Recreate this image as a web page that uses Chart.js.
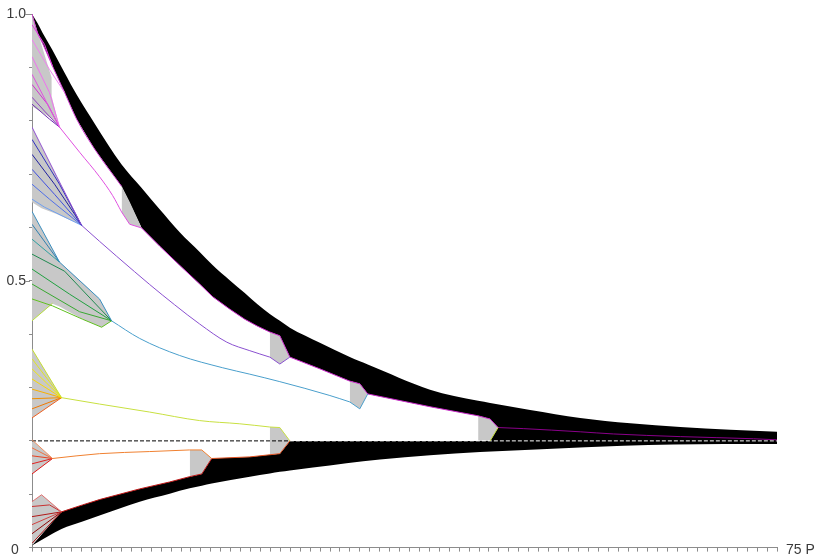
<!DOCTYPE html>
<html>
<head>
<meta charset="utf-8">
<script src="https://cdn.jsdelivr.net/npm/chart.js@4.4.1/dist/chart.umd.min.js"></script>
<style>
html,body{margin:0;padding:0;background:#fff;}
canvas{display:block;}
</style>
</head>
<body>
<canvas id="c" width="815" height="559"></canvas>
<script>
// generations 0..75 on x, frequency 0..1 on y
const X_MAX = 75;
const X_LABEL = 'P';
const Y_LABELS = {0.5: '0.5', 1: '1.0'};
const EQUIL = 0.2;

// black band coming down from 1.0
const upperX   = [0, 0.55, 1.06, 2.07, 3.28, 4.49, 6.30, 9.02, 11.04, 12.85, 14.87, 16.88, 18.20, 19.90, 21.42, 22.70, 23.94, 24.95, 25.96, 28.98, 31.99, 33.00, 33.80, 40.07, 44.91, 46.12, 46.13, 50.15, 55.19, 60.23, 65.27, 70.31, 75];
const upperTop = [1.000, 0.983, 0.965, 0.932, 0.890, 0.849, 0.795, 0.718, 0.674, 0.634, 0.591, 0.554, 0.529, 0.501, 0.477, 0.456, 0.438, 0.425, 0.412, 0.384, 0.357, 0.349, 0.343, 0.296, 0.275, 0.271, 0.27097, 0.258, 0.243, 0.233, 0.226, 0.221, 0.217];
const upperBot = [1.000, 0.965, 0.945, 0.902, 0.853, 0.803, 0.747, 0.677, 0.599, 0.565, 0.529, 0.494, 0.470, 0.447, 0.428, 0.415, 0.404, 0.397, 0.357, 0.335, 0.312, 0.307, 0.288, 0.264, 0.247, 0.241, 0.200, 0.200, 0.200, 0.200, 0.200, 0.200, 0.200];

// black band rising from 0
const lowerX   = [0, 2.97, 5.09, 6.80, 10.84, 13.86, 15.88, 17.09, 18.09, 21.93, 23.94, 24.95, 25.96, 28.28, 35.03, 40.07, 45.11, 51.86, 59.53, 64.57, 69.61, 75];
const lowerTop = [0.004, 0.067, 0.080, 0.090, 0.110, 0.123, 0.133, 0.138, 0.167, 0.170, 0.174, 0.176, 0.200, 0.200, 0.200, 0.200, 0.200, 0.200, 0.200, 0.200, 0.200, 0.200];
const lowerBot = [0.004, 0.035, 0.049, 0.060, 0.086, 0.101, 0.111, 0.116, 0.120, 0.133, 0.139, 0.142, 0.1445, 0.150, 0.165, 0.173, 0.179, 0.185, 0.191, 0.193, 0.194, 0.194];

// grey envelopes: [x, top, bottom]
const grey = [
  [[0, 1.97, 1.98, 2.77], [1.000, 0.881, 0.846, 0.788], [0.827, 0.804, 0.804, 0.788]],
  [[0, 0.96, 2.47, 4.99], [0.788, 0.751, 0.696, 0.604], [0.647, 0.636, 0.625, 0.604]],
  [[0, 2.07, 2.77, 5.09, 6.80, 7.01, 8.01], [0.630, 0.559, 0.535, 0.496, 0.466, 0.459, 0.425], [0.425, 0.457, 0.452, 0.428, 0.415, 0.413, 0.425]],
  [[0, 2.97], [0.372, 0.281], [0.243, 0.281]],
  [[0, 2.07], [0.202, 0.167], [0.138, 0.167]],
  [[0, 0.96, 2.97], [0.086, 0.099, 0.067], [0.006, 0.026, 0.067]],
  [[9.02, 9.83, 11.04], [0.677, 0.648, 0.599], [0.629, 0.606, 0.599]],
  [[23.94, 24.95, 25.96], [0.404, 0.397, 0.357], [0.357, 0.344, 0.357]],
  [[31.99, 33.00, 33.80], [0.312, 0.307, 0.288], [0.273, 0.260, 0.288]],
  [[44.91, 46.12, 46.92], [0.247, 0.241, 0.225], [0.200, 0.200, 0.225]],
  [[15.88, 17.09, 18.09], [0.183, 0.183, 0.167], [0.133, 0.138, 0.167]],
  [[23.94, 24.95, 25.96], [0.226, 0.225, 0.200], [0.174, 0.176, 0.200]]
];

// starting lines of each bundle
const bundle1 = [
  [[0, 0.980], [1.26, 0.943], [2.07, 0.902]],
  [[0, 0.952], [1.76, 0.896], [3.28, 0.853]],
  [[0, 0.920], [1.76, 0.853], [2.77, 0.788]],
  [[0, 0.887], [2.77, 0.788]],
  [[0, 0.868], [1.56, 0.831], [2.77, 0.788]],
  [[0, 0.844], [1.26, 0.818], [2.77, 0.788]],
  [[0, 0.831], [1.76, 0.803], [2.77, 0.788]]
];
const bundle2 = [
  [[0, 0.788], [2.47, 0.696], [4.99, 0.604]],
  [[0, 0.765], [2.77, 0.681], [4.99, 0.604]],
  [[0, 0.737], [2.27, 0.681], [4.28, 0.625], [4.99, 0.604]],
  [[0, 0.709], [2.27, 0.662], [4.99, 0.604]],
  [[0, 0.681], [1.76, 0.653], [4.99, 0.604]],
  [[0, 0.653], [1.26, 0.638], [4.99, 0.604]]
];
const bundle3 = [
  [[0, 0.630], [2.77, 0.535], [6.80, 0.466], [8.01, 0.425]],
  [[0, 0.606], [2.77, 0.535]],
  [[0, 0.578], [2.77, 0.535]],
  [[0, 0.550], [3.28, 0.518], [8.01, 0.425]],
  [[0, 0.522], [3.78, 0.475], [8.01, 0.425]],
  [[0, 0.494], [4.79, 0.442], [8.01, 0.425]],
  [[0, 0.466], [2.07, 0.453], [5.09, 0.428], [7.01, 0.413], [8.01, 0.425]],
  [[0, 0.425], [2.07, 0.458]]
];
const bundle4 = [
  [[0, 0.372], [2.97, 0.281]],
  [[0, 0.354], [2.97, 0.281]],
  [[0, 0.335], [2.97, 0.281]],
  [[0, 0.316], [2.97, 0.281]],
  [[0, 0.297], [2.97, 0.281]],
  [[0, 0.279], [2.97, 0.281]],
  [[0, 0.260], [2.97, 0.281]],
  [[0, 0.243], [2.97, 0.281]]
];
const bundle5 = [
  [[0, 0.202], [2.07, 0.167]],
  [[0, 0.187], [2.07, 0.167]],
  [[0, 0.172], [2.07, 0.167]],
  [[0, 0.157], [2.07, 0.167]],
  [[0, 0.138], [2.07, 0.167]]
];
const bundle6 = [
  [[0, 0.086], [0.96, 0.099], [2.97, 0.067]],
  [[0, 0.077], [1.76, 0.080], [2.97, 0.067]],
  [[0, 0.058], [2.97, 0.067]],
  [[0, 0.043], [2.97, 0.067]],
  [[0, 0.026], [2.97, 0.067]],
  [[0, 0.008], [2.97, 0.067]]
];

// merged lineages (smooth part) and the short joins into the bands
const trunk1 = [[2.77, 0.788], [4.79, 0.741], [6.80, 0.695], [8.11, 0.660], [9.02, 0.629]];
const join1  = [[9.02, 0.629], [9.83, 0.606], [11.04, 0.599]];
const trunk2 = [[4.99, 0.604], [6.80, 0.574], [8.52, 0.546], [10.33, 0.517], [11.85, 0.493], [14.36, 0.455], [16.88, 0.419], [19.61, 0.385], [21.93, 0.369], [23.94, 0.357]];
const join2  = [[23.94, 0.357], [24.95, 0.344], [25.96, 0.357]];
const trunk3 = [[8.01, 0.425], [10.84, 0.392], [14.87, 0.360], [19.20, 0.337], [21.93, 0.325], [24.95, 0.311], [29.99, 0.285], [31.99, 0.273]];
const join3  = [[31.99, 0.273], [33.00, 0.260], [33.80, 0.288]];
const trunk4 = [[2.97, 0.281], [6.80, 0.269], [11.85, 0.254], [16.88, 0.238], [20.92, 0.232], [23.94, 0.226]];
const join4  = [[23.94, 0.226], [24.95, 0.225], [25.96, 0.200]];
const join4b = [[46.12, 0.200], [46.92, 0.225]];
const trunk5 = [[2.07, 0.167], [6.80, 0.176], [11.85, 0.180], [15.88, 0.183]];
const join5  = [[15.88, 0.183], [17.09, 0.183], [18.09, 0.167]];
const trunk6 = [[2.97, 0.067], [5.09, 0.080], [6.80, 0.090], [10.84, 0.110], [13.86, 0.123], [15.88, 0.133], [17.09, 0.138], [18.09, 0.167]];
const lowerEdge = [[18.09, 0.167], [21.93, 0.170], [23.94, 0.174], [24.95, 0.176], [25.96, 0.200]];
const upperEdgeLeft = [[0, 1.0], [0.55, 0.965], [1.06, 0.945], [2.07, 0.902], [3.28, 0.853], [4.49, 0.803], [6.30, 0.747], [9.02, 0.677]];
const upperEdge = [[11.04, 0.599], [12.85, 0.565], [14.87, 0.529], [16.88, 0.494], [18.20, 0.470], [19.90, 0.447], [21.42, 0.428], [22.70, 0.415], [23.94, 0.404], [24.95, 0.397], [25.96, 0.357], [28.98, 0.335], [31.99, 0.312], [33.00, 0.307], [33.80, 0.288], [40.07, 0.264], [44.91, 0.247], [46.12, 0.241], [46.92, 0.225]];
const finalLine = [[46.92, 0.225], [49.45, 0.223], [55.19, 0.217], [58.52, 0.213], [65.27, 0.208], [72.63, 0.204], [75, 0.202]];

// styles
const c1 = ['#e040e0', '#f080f0', '#f070f0', '#e050e0', '#d030d0', '#9040c0', '#7030b0'];
const c2 = ['#9050d0', '#3030c0', '#2020a0', '#4050e0', '#5070e8', '#70a0f0'];
const c3 = ['#3a8fc0', '#3080b0', '#30a0a0', '#208a50', '#20a040', '#38a830', '#60c020', '#b8e040'];
const c4 = ['#c8e030', '#e0e820', '#f0e810', '#f8d800', '#f8b000', '#f09000', '#f07800', '#f06020'];
const c5 = ['#f09060', '#f07040', '#e84020', '#e02020', '#e01818'];
const c6 = ['#e07070', '#c83030', '#b01818', '#d04040', '#900808', '#a01010'];
const SMOOTH = {cubicInterpolationMode: 'monotone'};

const pts = (xs, ys) => xs.map((x, i) => ({x, y: ys[i]}));
const pairs = p => p.map(([x, y]) => ({x, y}));

function lineDs(p, color, extra) {
  return Object.assign({data: pairs(p), borderColor: color, borderWidth: 1, pointRadius: 0,
    fill: false, tension: 0, order: 0}, extra || {});
}
function areaDs(xs, top, bot, color, order, topExtra, botExtra) {
  return [
    Object.assign({data: pts(xs, top), borderWidth: 0, borderColor: 'rgba(0,0,0,0)', pointRadius: 0,
     backgroundColor: color, fill: '+1', tension: 0, order}, topExtra || {}),
    Object.assign({data: pts(xs, bot), borderWidth: 0, borderColor: 'rgba(0,0,0,0)', pointRadius: 0,
     fill: false, tension: 0, order}, botExtra || {})
  ];
}

const datasets = [];
datasets.push(...areaDs(upperX, upperTop, upperBot, '#000', 3, SMOOTH));
datasets.push(...areaDs(lowerX, lowerTop, lowerBot, '#000', 3, null, SMOOTH));
grey.forEach(g => datasets.push(...areaDs(g[0], g[1], g[2], '#c8c8c8', 2)));

// dashed equilibrium line, black on white, white on the bands
datasets.push(lineDs([[0, EQUIL], [25.96, EQUIL]], '#000', {borderDash: [4, 2], order: 1}));
datasets.push(lineDs([[25.96, EQUIL], [X_MAX, EQUIL]], '#fff', {borderDash: [4, 2], order: 1}));

[[bundle1, c1], [bundle2, c2], [bundle3, c3], [bundle4, c4], [bundle5, c5], [bundle6, c6]]
  .forEach(([b, cs]) => b.forEach((p, i) => datasets.push(lineDs(p, cs[i]))));

datasets.push(lineDs(upperEdgeLeft, '#d040d0', SMOOTH));
datasets.push(lineDs(trunk1, '#e050e0', SMOOTH), lineDs(join1, '#e050e0'));
datasets.push(lineDs(trunk2, '#8a50d0', SMOOTH), lineDs(join2, '#8a50d0'));
datasets.push(lineDs(trunk3, '#4a9fcc', SMOOTH), lineDs(join3, '#4a9fcc'));
datasets.push(lineDs(trunk4, '#c8e040', SMOOTH), lineDs(join4, '#c8e040'), lineDs(join4b, '#c8e040'));
datasets.push(lineDs(trunk5, '#f08030', SMOOTH), lineDs(join5, '#f08030'));
datasets.push(lineDs(trunk6, '#c01818'));
datasets.push(lineDs(lowerEdge, '#e05020'));
datasets.push(lineDs(upperEdge, '#c828c8'));
datasets.push(lineDs(finalLine, '#8a008a', SMOOTH));

const AXIS = '#8c8c8c', TXT = '#3a3a3a';
const FONT = '"Liberation Sans", Arial, sans-serif';

const extras = {
  id: 'extras',
  afterDraw(chart) {
    const {ctx, scales: {x, y}} = chart;
    ctx.save();
    ctx.strokeStyle = AXIS; ctx.lineWidth = 1;
    Object.keys(Y_LABELS).forEach(v => {
      const py = Math.round(y.getPixelForValue(+v)) + 0.5;
      ctx.beginPath(); ctx.moveTo(x.left - 7, py); ctx.lineTo(x.left - 2, py); ctx.stroke();
    });
    ctx.fillStyle = TXT; ctx.font = '14px ' + FONT;
    ctx.textBaseline = 'middle'; ctx.textAlign = 'center';
    const y0 = y.getPixelForValue(0);
    ctx.fillText('0', x.left - 17, y0 + 3);
    ctx.textAlign = 'left';
    ctx.fillText(X_MAX + ' ' + X_LABEL, x.right + 9, y0 + 3);
    ctx.restore();
  }
};

new Chart(document.getElementById('c'), {
  type: 'line',
  data: {datasets},
  options: {
    responsive: false,
    animation: false,
    layout: {padding: {left: 0, top: 14, right: 38, bottom: 0}},
    plugins: {legend: {display: false}, tooltip: {enabled: false}},
    scales: {
      x: {type: 'linear', min: 0, max: X_MAX, position: 'bottom',
          ticks: {display: false, stepSize: 1},
          grid: {drawOnChartArea: false, tickLength: 4, color: AXIS},
          border: {color: AXIS},
          afterFit: s => { s.height = 10; }},
      y: {type: 'linear', min: 0, max: 1,
          ticks: {stepSize: 0.1, padding: 3, color: TXT, font: {family: FONT, size: 14},
                  callback: v => Y_LABELS[Math.round(v * 10) / 10] || ''},
          grid: {drawOnChartArea: false, tickLength: 3, color: AXIS},
          border: {color: AXIS},
          afterFit: s => { s.width = 32; }}
    }
  },
  plugins: [extras]
});
</script>
</body>
</html>
